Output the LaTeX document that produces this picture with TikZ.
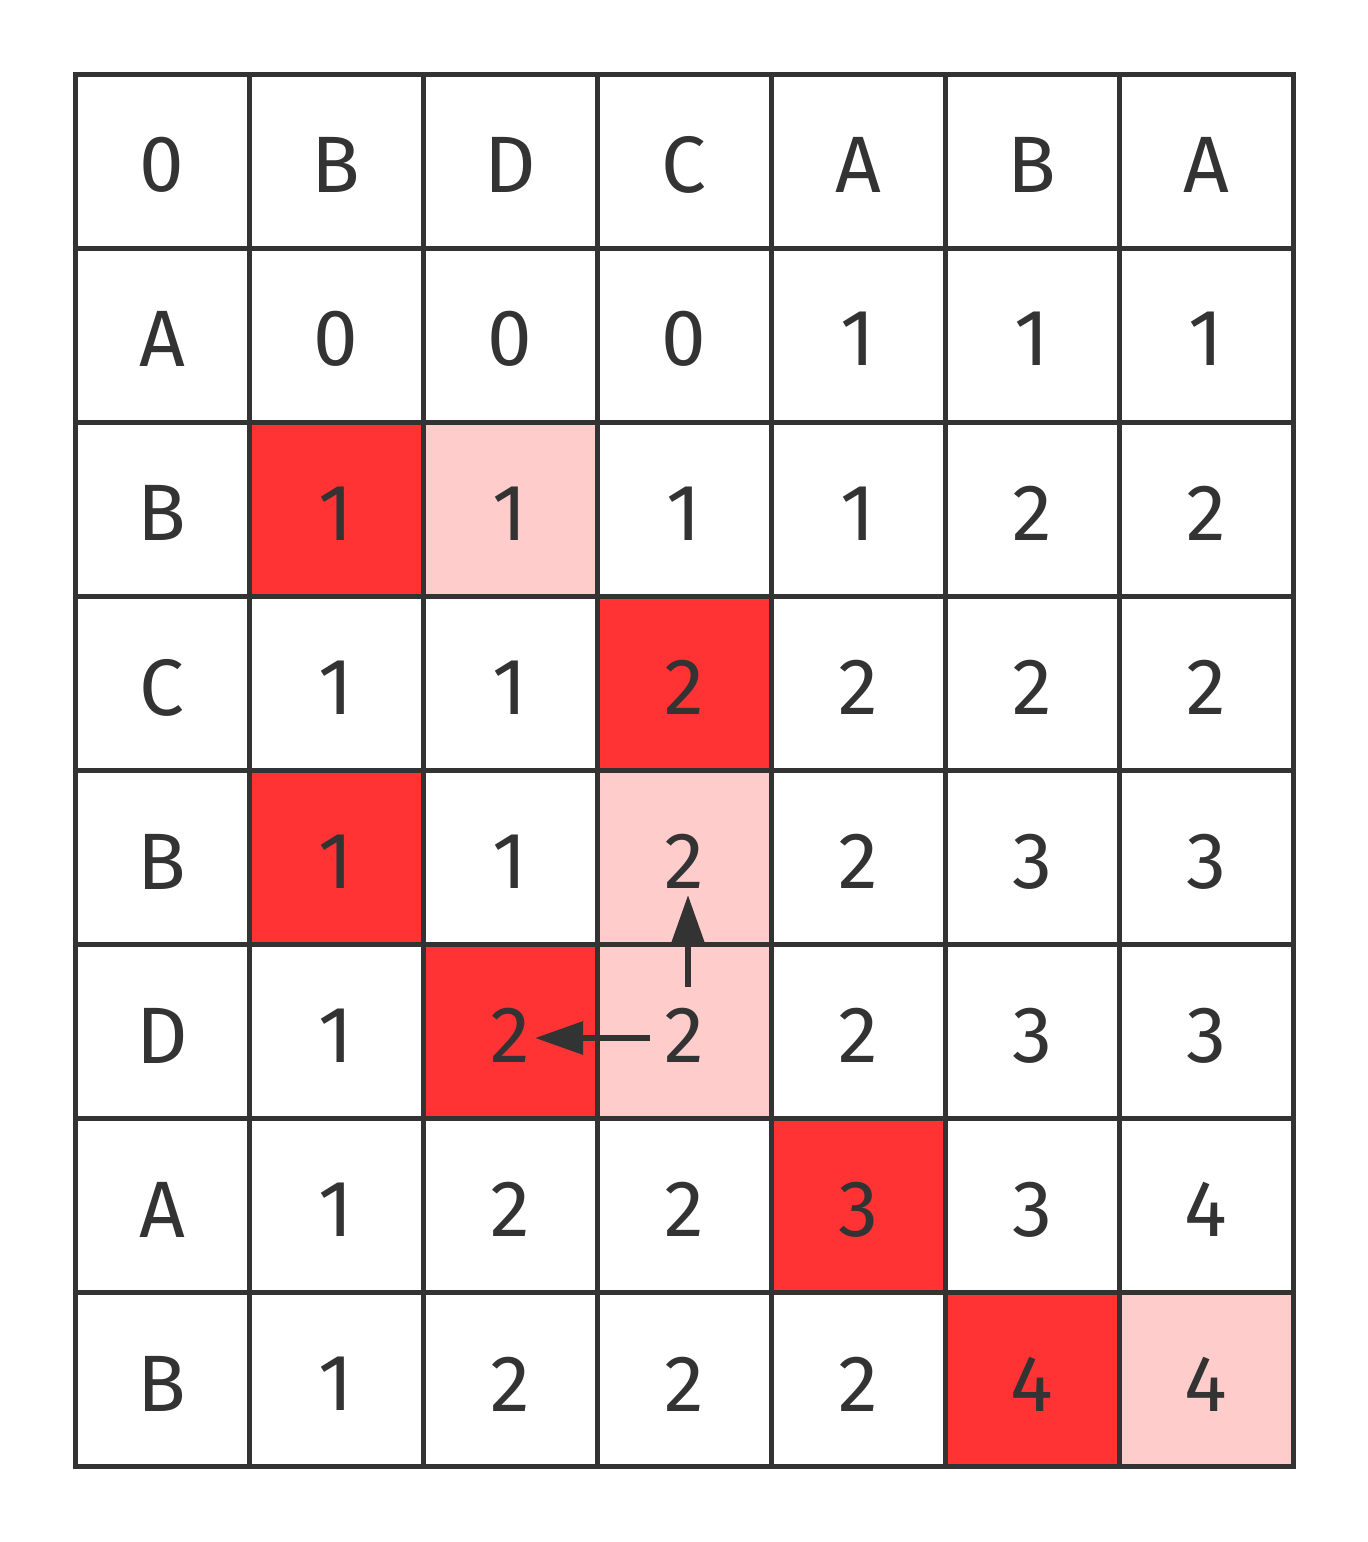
\documentclass[tikz,border=0pt]{standalone}
\usepackage{fontspec}
\setmainfont{Fira Sans}
\usetikzlibrary{arrows.meta}
\definecolor{ink}{HTML}{333333}
\definecolor{hot}{HTML}{FF3333}
\definecolor{soft}{HTML}{FFCCCC}
\begin{document}
\begin{tikzpicture}[x=0.5pt,y=-0.5pt,
  cell/.style={minimum width=87pt,minimum height=87pt,inner sep=0pt,outer sep=0pt,
    font=\fontsize{40}{40}\selectfont,text=ink,anchor=center},
  label/.style={font=\fontsize{40}{40}\selectfont,text=ink,inner sep=0pt,anchor=center},
  gridline/.style={draw=ink,line width=2.5pt,line join=miter},
  hotcell/.style={fill=hot},
  softcell/.style={fill=soft},
  pathway/.style={draw=ink,line width=3pt,-{Triangle[length=24pt,width=16pt]}}]
\useasboundingbox (0,0) rectangle (1368,1542);
% fills
\foreach \r/\c in {2/1,3/3,4/1,5/2,6/4,7/5}
  \fill[hotcell] ({75+174*\c},{74+174.125*\r}) rectangle ++(174,174.125);
\foreach \r/\c in {2/2,4/3,5/3,7/6}
  \fill[softcell] ({75+174*\c},{74+174.125*\r}) rectangle ++(174,174.125);
% cells
\foreach \row [count=\r from 0] in {{0,B,D,C,A,B,A},{A,0,0,0,1,1,1},{B,1,1,1,1,2,2},{C,1,1,2,2,2,2},{B,1,1,2,2,3,3},{D,1,2,2,2,3,3},{A,1,2,2,3,3,4},{B,1,2,2,2,4,4}} {
  \foreach \t [count=\c from 0] in \row {
    \node[cell] (n\r\c) at ({162+174*\c},{161.06+174.125*\r}) {};
    \node[label] (t\r\c) at ([yshift=-2pt]n\r\c.center) {\t};
  }
}
% grid
\foreach \r in {0,...,7}
  \foreach \c in {0,...,6}
    \draw[gridline] (n\r\c.north west) rectangle (n\r\c.south east);
% arrows
\coordinate (v0) at (688,987);
\coordinate (v1) at (688,895);
\coordinate (h0) at (650,1038);
\coordinate (h1) at (535,1038);
\draw[pathway] (v0) -- (v1);
\draw[pathway] (h0) -- (h1);
\end{tikzpicture}
\end{document}
